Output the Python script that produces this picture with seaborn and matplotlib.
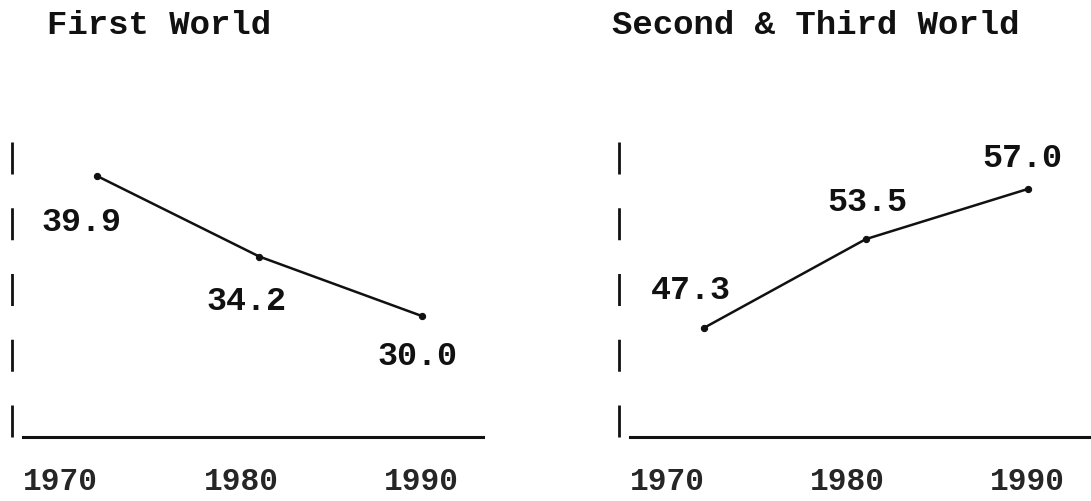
import matplotlib
matplotlib.use("Agg")
import matplotlib.pyplot as plt
import seaborn as sns
import pandas as pd

# data
years = [1972, 1981, 1990]
first_world = [39.9, 34.2, 30.0]
second_third_world = [47.3, 53.5, 57.0]
tick_years = [1970, 1980, 1990]
titles = ["First World", "Second & Third World"]

sns.set_style("white")
plt.rcParams['font.family'] = ['Liberation Mono', 'DejaVu Sans Mono']
plt.rcParams['font.weight'] = 'bold'
plt.rcParams['lines.scale_dashes'] = False

fig = plt.figure(figsize=(10.91, 5.02), dpi=100)
ax1 = fig.add_axes([23 / 1091, 64 / 502, 460 / 1091, 295 / 502])
ax2 = fig.add_axes([630 / 1091, 64 / 502, 459 / 1091, 295 / 502])

panels = [
    (ax1, first_world, (21.44, 42.30), [(-11.5, -33), (-9.4, -31.7), (-2.9, -28.8)]),
    (ax2, second_third_world, (39.69, 60.28), [(-9.4, 27.4), (1.4, 27.4), (-3.6, 23)]),
]

for ax, vals, ylim, offsets in panels:
    df = pd.DataFrame({'year': years, 'value': vals})
    sns.lineplot(data=df, x='year', y='value', ax=ax, color='#111111',
                 linewidth=1.8, marker='o', markersize=4.5,
                 markeredgecolor='#111111')
    # value labels next to each point
    for x, v, off in zip(years, vals, offsets):
        ax.annotate(f"{v:.1f}", (x, v), xytext=off, textcoords='offset points',
                    ha='center', va='center', fontsize=24, fontweight='bold',
                    color='#111111')
    ax.set_xlim(1967.9, 1993.4)
    ax.set_ylim(*ylim)
    ax.set_xticks(tick_years)
    ax.set_xticklabels([str(t) for t in tick_years])
    ax.set_yticks([])
    ax.set_xlabel('')
    ax.set_ylabel('')
    ax.tick_params(axis='x', length=0, pad=21, labelsize=22.5)
    for lab in ax.get_xticklabels():
        lab.set_fontweight('bold')
    ax.spines['top'].set_visible(False)
    ax.spines['right'].set_visible(False)
    ax.spines['bottom'].set_linewidth(2.2)
    ax.spines['bottom'].set_color('#111111')
    # typed "|" marks on the left
    ax.spines['left'].set_position(('outward', 7.6))
    ax.spines['left'].set_linewidth(2.0)
    ax.spines['left'].set_color('#111111')
    ax.spines['left'].set_linestyle((0, (23.04, 24.3)))
    ax.spines['left'].set_capstyle('butt')

fig.text(47 / 1091, 1 - 25 / 502, titles[0], ha='left', va='center',
         fontsize=24.5, fontweight='bold', color='#111111')
fig.text(612 / 1091, 1 - 25 / 502, titles[1], ha='left', va='center',
         fontsize=24.5, fontweight='bold', color='#111111')

fig.savefig('out.png', dpi=100)
